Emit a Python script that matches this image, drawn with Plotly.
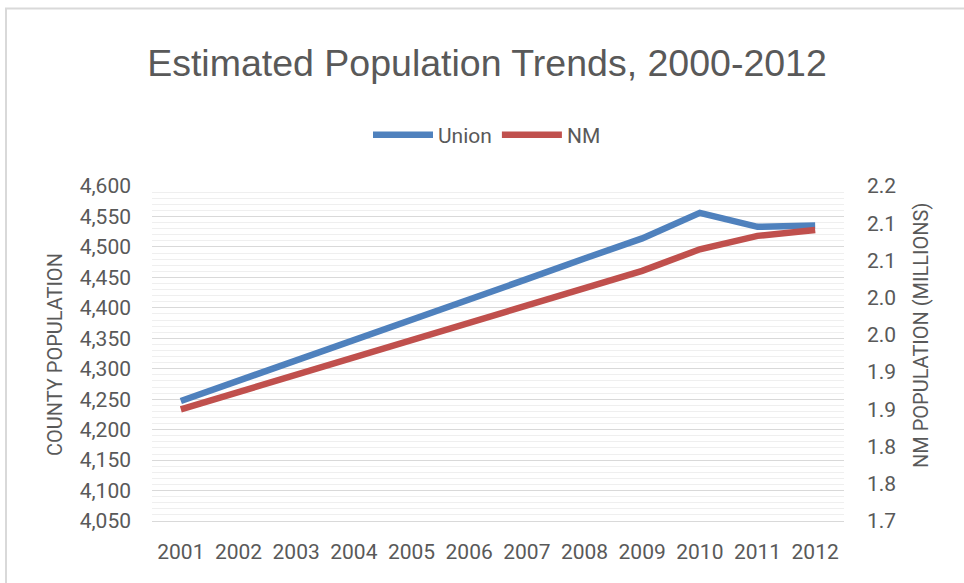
import plotly.graph_objects as go

years = ["2001", "2002", "2003", "2004", "2005", "2006", "2007", "2008", "2009", "2010", "2011", "2012"]
union_pop = [4247, 4280, 4314, 4347, 4380, 4414, 4447, 4481, 4514, 4556, 4533, 4535]
nm_pop_millions = [1.900, 1.923, 1.946, 1.969, 1.992, 2.015, 2.038, 2.062, 2.086, 2.115, 2.133, 2.141]

left_ticks = [4050, 4100, 4150, 4200, 4250, 4300, 4350, 4400, 4450, 4500, 4550, 4600]
left_ticktext = ["4,050", "4,100", "4,150", "4,200", "4,250", "4,300", "4,350", "4,400", "4,450", "4,500", "4,550", "4,600"]
right_ticks = [1.75, 1.80, 1.85, 1.90, 1.95, 2.00, 2.05, 2.10, 2.15, 2.20]
right_ticktext = ["1.7", "1.8", "1.8", "1.9", "1.9", "2.0", "2.0", "2.1", "2.1", "2.2"]

W, H = 964, 583
L, R, T, B = 152, 844, 186, 521

grey = "#595959"
font_ticks = dict(family="Roboto", size=21, color=grey)

fig = go.Figure()
fig.add_trace(go.Scatter(x=years, y=union_pop, name="Union", mode="lines",
                         line=dict(color="#4f81bd", width=6.5), yaxis="y"))
fig.add_trace(go.Scatter(x=years, y=nm_pop_millions, name="NM", mode="lines",
                         line=dict(color="#c0504d", width=6.5), yaxis="y2"))

def px_x(p):
    return (p - L) / (R - L)

def px_y(p):
    return (B - p) / (B - T)

fig.update_layout(
    width=W, height=H,
    margin=dict(l=L, r=W - R, t=T, b=H - B, pad=0),
    paper_bgcolor="white", plot_bgcolor="white",
    title=dict(text="Estimated Population Trends, 2000-2012", x=487 / W, xanchor="center",
               y=1 - 63 / H, yanchor="middle",
               font=dict(family="Liberation Sans", size=37.5, color=grey)),
    showlegend=True,
    legend=dict(orientation="h", x=px_x(487), xanchor="center", y=px_y(135), yanchor="middle",
                font=dict(family="Roboto", size=21, color=grey), itemwidth=60,
                bgcolor="rgba(0,0,0,0)"),
    xaxis=dict(type="category", range=[-0.5, 11.5], showgrid=False, zeroline=False,
               showline=True, linecolor="#d9d9d9", linewidth=1, ticks="",
               tickfont=font_ticks, ticklabelstandoff=12),
    yaxis=dict(range=[4050, 4600], tickvals=left_ticks, ticktext=left_ticktext,
               showgrid=True, gridcolor="#d9d9d9", gridwidth=1, zeroline=False, ticks="",
               tickfont=font_ticks, ticklabelstandoff=20,
               minor=dict(dtick=10, tick0=4050, showgrid=True, gridcolor="#efefef", gridwidth=1)),
    yaxis2=dict(range=[1.75, 2.2], tickvals=right_ticks, ticktext=right_ticktext,
                overlaying="y", side="right", showgrid=False, zeroline=False, ticks="",
                tickfont=font_ticks, ticklabelstandoff=22),
    annotations=[
        dict(text="COUNTY POPULATION", x=px_x(55), y=px_y(355), xref="paper", yref="paper",
             textangle=-90, showarrow=False, xanchor="center", yanchor="middle",
             font=dict(family="Roboto", size=20, color=grey)),
        dict(text="NM POPULATION (MILLIONS)", x=px_x(921), y=px_y(336), xref="paper", yref="paper",
             textangle=-90, showarrow=False, xanchor="center", yanchor="middle",
             font=dict(family="Roboto", size=20, color=grey)),
    ],
    shapes=[
        dict(type="line", xref="paper", yref="paper", x0=px_x(6), x1=px_x(6), y0=px_y(700), y1=px_y(8.5),
             line=dict(color="#d9d9d9", width=2), layer="below"),
        dict(type="line", xref="paper", yref="paper", x0=px_x(5), x1=px_x(1100), y0=px_y(8.5), y1=px_y(8.5),
             line=dict(color="#d9d9d9", width=2), layer="below"),
    ],
)

fig.write_html("out.html", config={"displayModeBar": False},
               post_script="document.body.style.margin='0';document.body.style.overflow='hidden';")
